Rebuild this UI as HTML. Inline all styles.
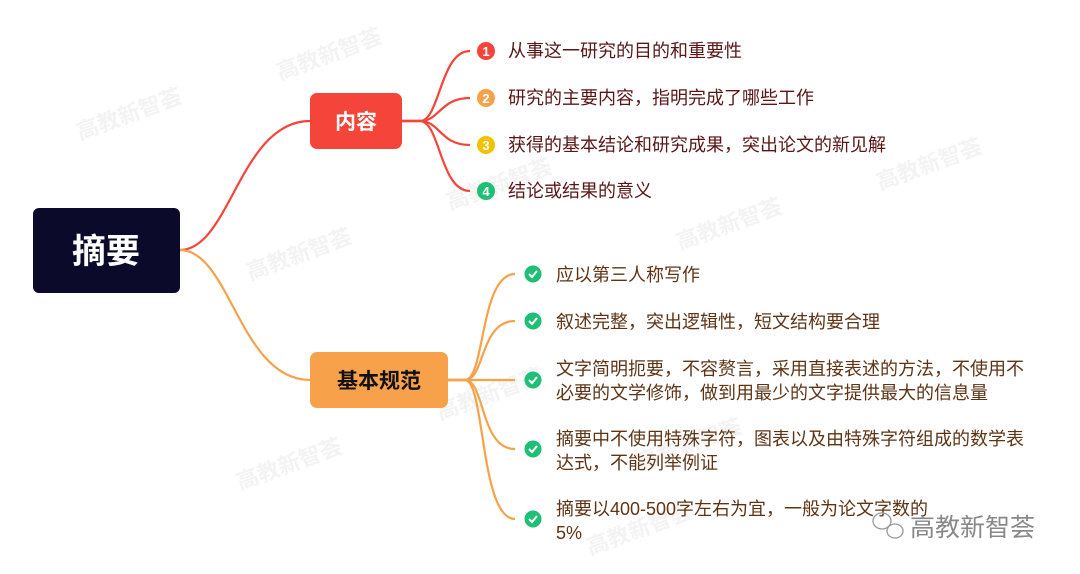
<!DOCTYPE html>
<html><head><meta charset="utf-8"><style>
body{margin:0;background:#fff}
svg{display:block}
text{font-family:"Liberation Sans","Noto Sans CJK SC",sans-serif}
</style></head><body>
<svg width="1080" height="574" viewBox="0 0 1080 574">
<g fill="#f3f3f3" font-size="22" font-weight="bold">
<text transform="translate(80,140) rotate(-20)">高教新智荟</text>
<text transform="translate(280,80) rotate(-20)">高教新智荟</text>
<text transform="translate(250,280) rotate(-20)">高教新智荟</text>
<text transform="translate(450,210) rotate(-20)">高教新智荟</text>
<text transform="translate(680,250) rotate(-20)">高教新智荟</text>
<text transform="translate(880,190) rotate(-20)">高教新智荟</text>
<text transform="translate(240,490) rotate(-20)">高教新智荟</text>
<text transform="translate(440,420) rotate(-20)">高教新智荟</text>
<text transform="translate(640,470) rotate(-20)">高教新智荟</text>
<text transform="translate(590,555) rotate(-20)">高教新智荟</text>
</g>
<g fill="none" stroke-width="2.2">
<path d="M180,250 C230,250 240,121 310,121" stroke="#f5453b"/>
<path d="M180,250 C230,250 240,380 310,380" stroke="#f7a24a"/>
<g stroke="#f5453b">
<path d="M402,121 H420 C440,121 440,51 470,51"/>
<path d="M402,121 H420 C440,121 440,98 470,98"/>
<path d="M402,121 H420 C440,121 440,145 470,145"/>
<path d="M402,121 H420 C440,121 440,191 470,191"/>
</g>
<g stroke="#f7a24a">
<path d="M448,380 H465 C485,380 480,274 515,274"/>
<path d="M448,380 H465 C485,380 480,321 515,321"/>
<path d="M448,380 H515"/>
<path d="M448,380 H465 C485,380 480,449 515,449"/>
<path d="M448,380 H465 C485,380 480,519 515,519"/>
</g>
</g>
<rect x="33" y="208" width="147" height="85" rx="6" fill="#0b0a2a"/>
<text x="106" y="263" fill="#fff" font-size="34" font-weight="bold" text-anchor="middle">摘要</text>
<rect x="310" y="93" width="92" height="56" rx="7" fill="#f5453b"/>
<text x="356" y="129" fill="#fff" font-size="21" font-weight="bold" text-anchor="middle">内容</text>
<rect x="310" y="352" width="138" height="56" rx="7" fill="#f7a24a"/>
<text x="379" y="388" fill="#111" font-size="21" font-weight="bold" text-anchor="middle">基本规范</text>
<g font-size="13" font-weight="bold" fill="#fff" text-anchor="middle">
<circle cx="486" cy="51" r="9" fill="#f5453b"/><text x="486" y="56">1</text>
<circle cx="486" cy="98" r="9" fill="#f7a24a"/><text x="486" y="103">2</text>
<circle cx="486" cy="145" r="9" fill="#f2c200"/><text x="486" y="150">3</text>
<circle cx="486" cy="191" r="9" fill="#1fbf75"/><text x="486" y="196">4</text>
</g>
<g font-size="18" fill="#5a1616">
<text x="508" y="57">从事这一研究的目的和重要性</text>
<text x="508" y="104">研究的主要内容，指明完成了哪些工作</text>
<text x="508" y="151">获得的基本结论和研究成果，突出论文的新见解</text>
<text x="508" y="197">结论或结果的意义</text>
</g>
<g fill="#1fbf75">
<circle cx="533" cy="274" r="8.5"/><circle cx="533" cy="321" r="8.5"/><circle cx="533" cy="380" r="8.5"/><circle cx="533" cy="449" r="8.5"/><circle cx="533" cy="519" r="8.5"/>
</g>
<g fill="none" stroke="#fff" stroke-width="2">
<path d="M529,274 l3,3 l5,-6"/><path d="M529,321 l3,3 l5,-6"/><path d="M529,380 l3,3 l5,-6"/><path d="M529,449 l3,3 l5,-6"/><path d="M529,519 l3,3 l5,-6"/>
</g>
<g font-size="18" fill="#5e3415">
<text x="556" y="281">应以第三人称写作</text>
<text x="556" y="328">叙述完整，突出逻辑性，短文结构要合理</text>
<text x="556" y="375">文字简明扼要，不容赘言，采用直接表述的方法，不使用不</text>
<text x="556" y="399">必要的文学修饰，做到用最少的文字提供最大的信息量</text>
<text x="556" y="445">摘要中不使用特殊字符，图表以及由特殊字符组成的数学表</text>
<text x="556" y="469">达式，不能列举例证</text>
<text x="556" y="515">摘要以400-500字左右为宜，一般为论文字数的</text>
<text x="556" y="539">5%</text>
</g>
<g fill="none" stroke="#999" stroke-width="1.3">
<ellipse cx="882" cy="521" rx="9" ry="8"/><ellipse cx="895" cy="531" rx="8" ry="7"/>
</g>
<text x="910" y="536" font-size="25" fill="#888">高教新智荟</text>
</svg>
</body></html>
